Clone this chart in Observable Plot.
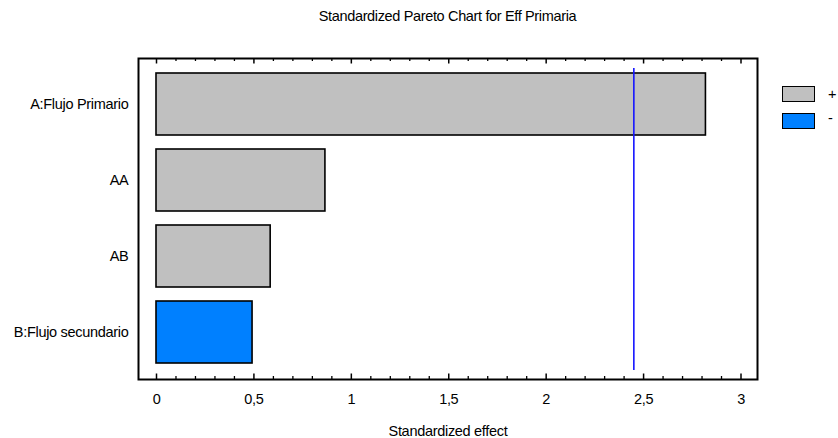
<!DOCTYPE html>
<html>
<head>
<meta charset="utf-8">
<script src="https://cdn.jsdelivr.net/npm/d3@7"></script>
<script src="https://cdn.jsdelivr.net/npm/@observablehq/plot@0.6"></script>
<style>
  html, body { margin: 0; padding: 0; background: #fff; }
  #wrap { position: relative; width: 838px; height: 438px; overflow: hidden;
          font-family: "Liberation Sans", Arial, sans-serif; color: #000; }
  #title { position: absolute; left: 138px; width: 619px; top: 9px; text-align: center;
           font-size: 14.5px; line-height: 14.5px; letter-spacing: -0.35px; white-space: nowrap; }
  .sw { position: absolute; left: 782px; width: 31px; height: 14px; border: 1.6px solid #000; }
  .lg { position: absolute; left: 828px; font-size: 14.5px; line-height: 14.5px; }
  svg text { letter-spacing: -0.3px; }
</style>
</head>
<body>
<div id="wrap">
  <div id="title">Standardized Pareto Chart for Eff Primaria</div>
  <div id="chart"></div>
  <div class="sw" style="top:86px;background:#c0c0c0"></div>
  <div class="lg" style="top:87px">+</div>
  <div class="sw" style="top:112.5px;background:#0080ff"></div>
  <div class="lg" style="top:111px">-</div>
</div>
<script>
const effects = ["A:Flujo Primario", "AA", "AB", "B:Flujo secundario"];
const values = [2.82, 0.867, 0.586, 0.493];
const signs = ["+", "+", "+", "-"];
const signColors = ["#c0c0c0", "#0080ff"];
const critical = [2.45];
const majorTicks = [0, 0.5, 1, 1.5, 2, 2.5, 3];
const minorTicks = d3.range(0, 31).map(i => i / 10).filter(v => Math.round(v * 10) % 5 !== 0);

const data = effects.map((e, i) => ({effect: e, value: values[i], sign: signs[i]}));

const W = 838, H = 438, mT = 58, mB = 59, mL = 138, mR = 81;
const frameH = H - mT - mB;
const fmt = d => String(d).replace(".", ",");

const plot = Plot.plot({
  width: W, height: H,
  marginLeft: mL, marginRight: mR, marginTop: mT, marginBottom: mB,
  style: {fontFamily: '"Liberation Sans", Arial, sans-serif', fontSize: "14.5px", background: "transparent", color: "#000", overflow: "visible"},
  x: {domain: [0, 3], range: [156, 740.5]},
  y: {domain: effects, range: [66, 370], paddingInner: 0.184, paddingOuter: 0.092},
  color: {domain: ["+", "-"], range: signColors},
  marks: [
    Plot.barX(data, {x: "value", y: "effect", fill: "sign", stroke: "#000", strokeWidth: 1.6}),
    Plot.ruleX(critical, {stroke: "#1515ff", strokeWidth: 1.6, insetTop: 10, insetBottom: 9}),
    Plot.ruleX(majorTicks, {stroke: "#000", strokeWidth: 1.5, insetTop: frameH - 5.5}),
    Plot.ruleX(minorTicks, {stroke: "#000", strokeWidth: 1.3, insetTop: frameH - 3}),
    Plot.ruleX(majorTicks, {stroke: "#000", strokeWidth: 1.5, insetBottom: frameH - 5.5}),
    Plot.ruleX(minorTicks, {stroke: "#000", strokeWidth: 1.3, insetBottom: frameH - 3}),
    Plot.frame({stroke: "#000", strokeWidth: 2}),
    Plot.axisX({ticks: majorTicks, tickSize: 0, tickPadding: 14, tickFormat: fmt,
                label: "Standardized effect", labelAnchor: "center", labelOffset: 56, labelArrow: "none"}),
    Plot.axisY({tickSize: 0, tickPadding: 10, label: null})
  ]
});
document.getElementById("chart").appendChild(plot);
</script>
</body>
</html>
